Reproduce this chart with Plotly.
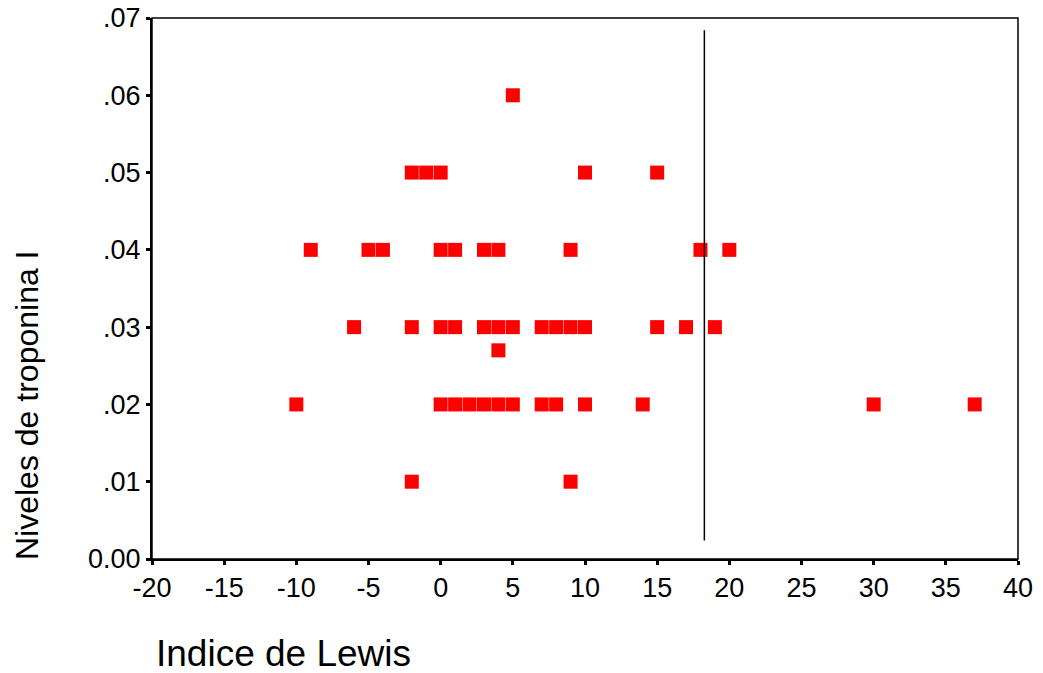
import plotly.graph_objects as go

# Data (Indice de Lewis vs niveles de troponina I)
row_050_x = [-2, -1, 0, 10, 15]
row_040_x = [-9, -5, -4, 0, 1, 3, 4, 9, 18, 20]
row_030_x = [-6, -2, 0, 1, 3, 4, 5, 7, 8, 9, 10, 15, 17, 19]
row_027_x = [4]
row_020_x = [-10, 0, 1, 2, 3, 4, 5, 7, 8, 10, 14, 30, 37]
row_060_x = [5]
row_010_x = [-2, 9]

lewis = row_060_x + row_050_x + row_040_x + row_030_x + row_027_x + row_020_x + row_010_x
troponina = ([0.06] * len(row_060_x) + [0.05] * len(row_050_x) + [0.04] * len(row_040_x)
             + [0.03] * len(row_030_x) + [0.027] * len(row_027_x)
             + [0.02] * len(row_020_x) + [0.01] * len(row_010_x))

# Reference line
ref_line_x = 18.27
ref_line_y = [0.0024, 0.0684]

x_ticks = [-20, -15, -10, -5, 0, 5, 10, 15, 20, 25, 30, 35, 40]
y_ticks = [0.0, 0.01, 0.02, 0.03, 0.04, 0.05, 0.06, 0.07]
y_tick_text = ["0.00", ".01", ".02", ".03", ".04", ".05", ".06", ".07"]

FONT = "Liberation Sans, Arial, sans-serif"

fig = go.Figure()
fig.add_trace(go.Scatter(
    x=lewis, y=troponina, mode="markers",
    marker=dict(symbol="square", size=14, color="#FF0000", line=dict(width=0)),
    showlegend=False, hoverinfo="x+y",
))

fig.add_shape(type="line", xref="x", yref="y",
              x0=ref_line_x, x1=ref_line_x, y0=ref_line_y[0], y1=ref_line_y[1],
              line=dict(color="black", width=1.5))
fig.add_shape(type="rect", xref="paper", yref="paper", x0=0, x1=1, y0=0, y1=1,
              line=dict(color="black", width=1.5), layer="above")

fig.update_layout(
    width=1043, height=673,
    margin=dict(l=152, r=25, t=18, b=114),
    paper_bgcolor="white", plot_bgcolor="white",
    font=dict(family=FONT, color="black", size=27),
    xaxis=dict(range=[-20, 40], tickvals=x_ticks, ticktext=[str(v) for v in x_ticks],
               automargin=False,
               showgrid=False, zeroline=False, showline=True, linecolor="black", linewidth=2,
               ticks="outside", ticklen=4, tickwidth=3, tickcolor="black",
               tickfont=dict(size=27, family=FONT)),
    yaxis=dict(range=[0, 0.07], tickvals=y_ticks, ticktext=y_tick_text,
               automargin=False,
               showgrid=False, zeroline=False, showline=True, linecolor="black", linewidth=2,
               ticks="outside", ticklen=4, tickwidth=3, tickcolor="black",
               tickfont=dict(size=27, family=FONT)),
    annotations=[
        dict(text="Indice de Lewis", xref="paper", yref="paper", x=0, y=0,
             xanchor="left", yanchor="middle", xshift=2, yshift=-94,
             showarrow=False, font=dict(size=37, family=FONT)),
        dict(text="Niveles de troponina I", xref="paper", yref="paper", x=0, y=0,
             xanchor="center", yanchor="bottom", textangle=-90, xshift=-125, yshift=-3,
             showarrow=False, font=dict(size=32, family=FONT)),
    ],
)

fig.write_html("out.html")
